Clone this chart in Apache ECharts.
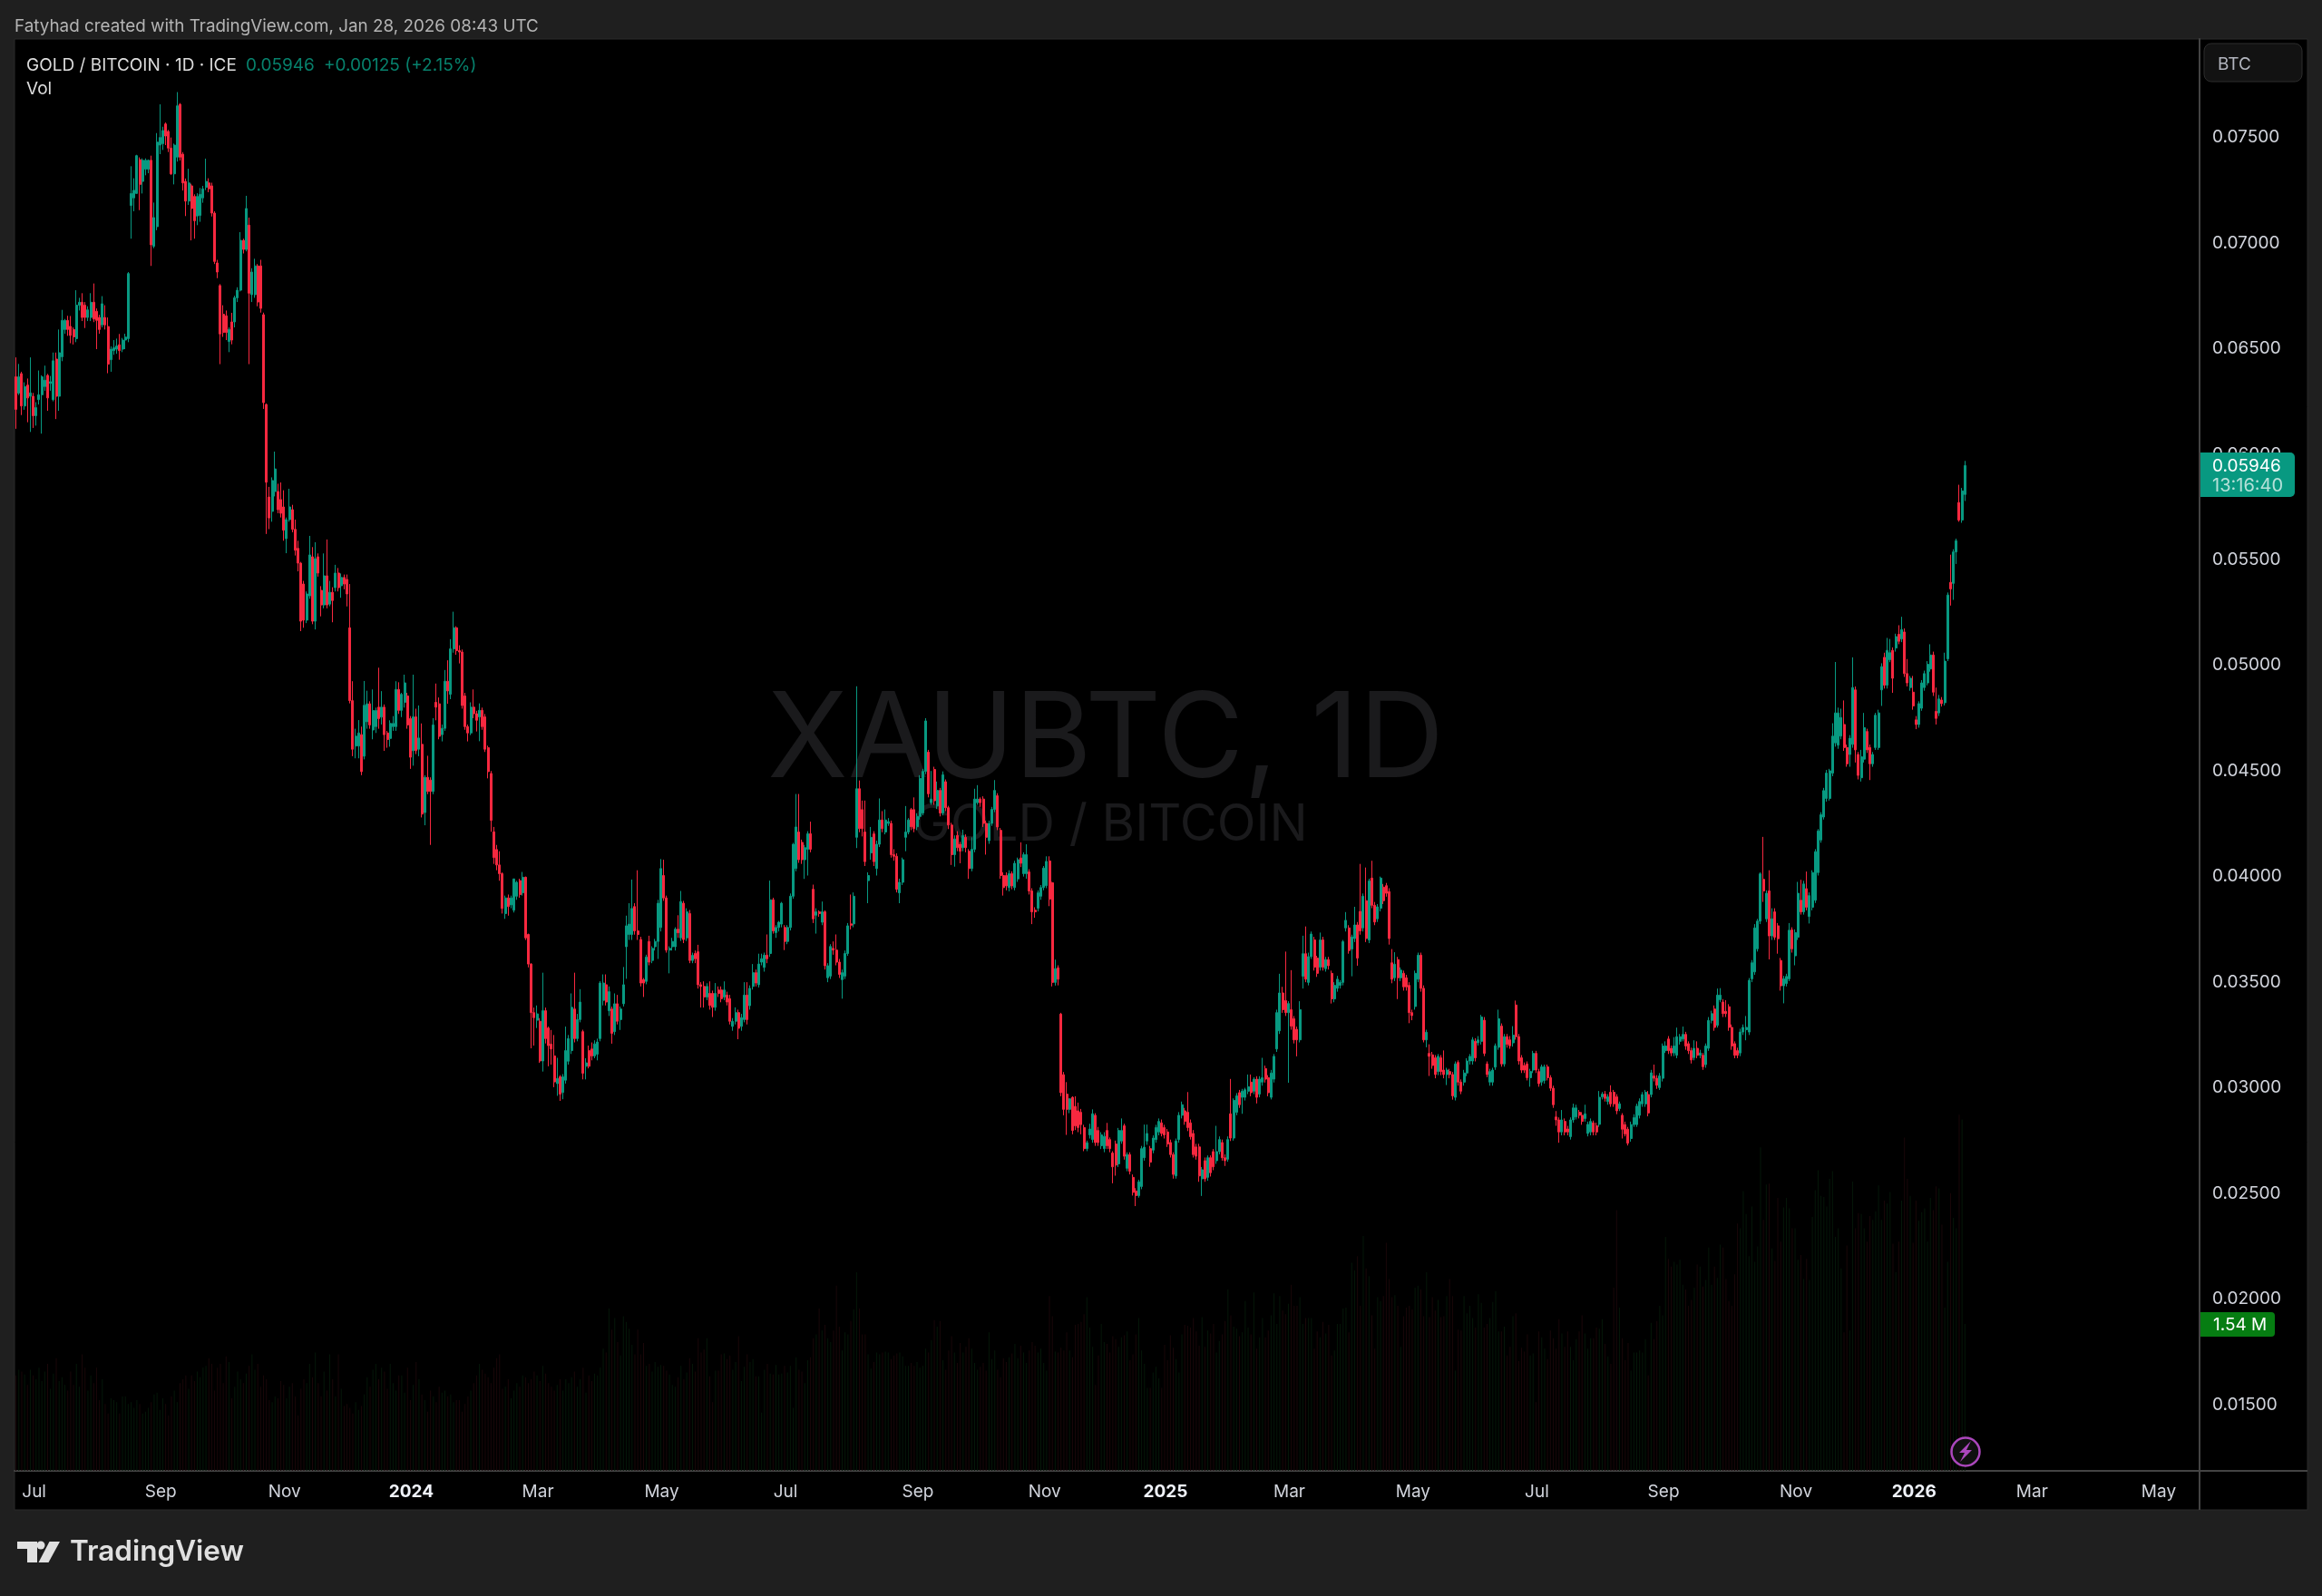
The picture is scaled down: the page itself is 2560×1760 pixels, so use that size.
<!DOCTYPE html>
<html>
<head>
<meta charset="utf-8">
<style>
html,body{margin:0;padding:0;background:#1f1f1f}
#chart{width:2560px;height:1760px}
</style>
<script src="https://cdn.jsdelivr.net/npm/echarts@6/dist/echarts.min.js"></script>
</head>
<body>
<div id="chart"></div>
<script>
// prices in units of 0.00001 BTC
const opens = [
6366,6289,6381,6228,6327,6274,6274,6182,6258,6281,
6320,6373,6335,6258,6450,6274,6461,6590,6633,6605,
6590,6547,6705,6719,6705,6647,6647,6719,6676,6647,
6612,6647,6604,6447,6490,6497,6518,6497,6540,6547,
7177,7213,7234,7394,7291,7349,7349,7391,6984,7077,
7463,7470,7563,7528,7449,7327,7406,7656,7420,7291,
7198,7270,7220,7127,7130,7213,7263,7284,7270,7141,
6905,6798,6662,6655,6533,6626,6626,6740,6776,7012,
6969,7084,6755,6755,6891,6891,6660,6235,5797,5729,
5823,5823,5785,5750,5600,5690,5737,5644,5554,5484,
5385,5214,5329,5514,5209,5514,5355,5286,5424,5290,
5346,5368,5437,5377,5416,5407,5178,4833,4618,4618,
4672,4570,4733,4818,4694,4710,4802,4755,4802,4680,
4654,4710,4710,4886,4787,4825,4855,4748,4596,4756,
4603,4626,4303,4470,4457,4403,4825,4818,4672,4702,
4925,4863,5078,5178,5070,5063,4855,4710,4680,4802,
4771,4756,4787,4756,4610,4488,4212,4128,4055,4014,
3825,3899,3866,3841,3907,3981,3923,3997,3726,3586,
3356,3320,3315,3127,3365,3283,3207,3151,3020,3052,
2978,3036,3126,3176,3373,3233,3323,3266,3102,3176,
3184,3151,3159,3233,3414,3488,3365,3373,3266,3398,
3323,3398,3668,3726,3726,3858,3743,3702,3512,3504,
3693,3603,3668,3693,3759,4005,3899,3652,3668,3668,
3751,3710,3874,3710,3825,3603,3636,3644,3488,3480,
3430,3447,3447,3381,3463,3463,3430,3439,3422,3291,
3315,3356,3291,3323,3439,3389,3480,3545,3488,3595,
3570,3628,3636,3890,3735,3759,3775,3759,3693,3759,
3907,4038,4211,4162,4080,4129,4203,3940,3817,3833,
3784,3833,3521,3529,3660,3652,3595,3512,3529,3636,
3776,3776,4186,4416,4317,4211,3981,4112,4202,4038,
4153,4268,4211,4252,4252,4104,4096,3923,3973,4186,
4211,4317,4317,4236,4285,4301,4498,4589,4350,4507,
4334,4408,4301,4449,4326,4244,4104,4195,4153,4137,
4186,4120,4038,4129,4350,4367,4367,4252,4170,4252,
4318,4383,4219,4005,4005,3948,4014,3948,3989,4088,
4014,4014,4022,3932,3841,3850,3907,3948,3957,4074,
3971,3499,3568,3349,3062,2970,2898,2955,2912,2891,
2884,2812,2712,2777,2755,2870,2798,2726,2712,2798,
2755,2691,2734,2640,2748,2820,2619,2684,2576,2512,
2490,2533,2669,2748,2712,2705,2755,2791,2834,2812,
2791,2741,2684,2583,2755,2870,2891,2884,2834,2784,
2720,2720,2569,2655,2576,2669,2698,2655,2698,2741,
2669,2662,2877,2762,2884,2977,2955,2955,2984,3027,
2984,3041,2970,3027,3091,3048,2955,3041,3184,3270,
3449,3413,3356,3370,3327,3277,3227,3528,3635,3499,
3621,3700,3614,3571,3700,3564,3607,3542,3421,3471,
3485,3499,3757,3757,3657,3707,3771,3835,3757,3886,
3700,3993,3864,3800,3850,3950,3957,3929,3592,3521,
3607,3521,3542,3521,3485,3356,3385,3514,3628,3471,
3227,3163,3156,3142,3077,3142,3084,3063,3077,3063,
2955,3120,3027,3027,3070,3127,3127,3220,3213,3220,
3320,3113,3027,3027,3098,3192,3292,3113,3242,3227,
3213,3392,3242,3142,3106,3113,3048,3084,3163,3077,
3027,3034,3099,3048,2998,2862,2848,2791,2841,2805,
2769,2848,2862,2884,2870,2855,2784,2791,2834,2820,
2827,2957,2970,2935,2979,2979,2957,2902,2870,2826,2804,
2760,2826,2826,2870,2924,2924,2968,2968,3056,3045,
3001,3045,3176,3231,3187,3165,3154,3220,3231,3253,
3209,3176,3143,3187,3154,3154,3110,3187,3319,3373,
3296,3417,3406,3362,3384,3286,3209,3176,3165,3264,
3275,3264,3516,3549,3658,3789,3987,3800,3932,3719,
3833,3767,3603,3483,3494,3516,3747,3625,3713,3888,
3833,3943,3811,3855,3888,4019,4173,4282,4370,4370,
4490,4633,4622,4665,4720,4611,4578,4626,4884,4578,
4468,4556,4687,4611,4534,4611,4611,4884,5038,4906,
5027,5071,5082,5147,5125,5158,4961,4895,4873,4742,
4720,4797,4895,4917,4983,5049,4782,4775,4836,4823,
5031,5393,5388,5537,5771,5688,5809
];
const closes = [
6212,6366,6228,6320,6266,6290,6182,6220,6281,6366,
6350,6266,6343,6442,6274,6480,6633,6633,6590,6562,
6555,6705,6719,6647,6647,6683,6719,6640,6633,6590,
6712,6612,6426,6497,6504,6512,6490,6540,6554,6855,
7234,7249,7413,7277,7391,7391,7391,6991,7120,7477,
7499,7532,7506,7449,7327,7463,7649,7406,7284,7198,
7284,7163,7105,7220,7230,7256,7291,7256,7141,6912,
6862,6569,6576,6576,6590,6540,6740,6776,7012,6969,
7163,6762,6862,6891,6720,6690,6244,5867,5698,5875,
5930,5737,5720,5640,5690,5750,5644,5545,5484,5209,
5214,5338,5523,5209,5505,5437,5286,5424,5286,5346,
5307,5437,5368,5416,5385,5338,4833,4603,4665,4680,
4497,4811,4818,4718,4786,4786,4748,4802,4672,4649,
4725,4725,4886,4787,4863,4917,4718,4565,4756,4596,
4656,4296,4470,4403,4403,4718,4802,4664,4702,4925,
4879,5078,5178,5070,5063,4810,4710,4680,4802,4771,
4740,4787,4710,4603,4497,4266,4090,4055,4014,3849,
3899,3858,3899,3989,3973,3915,3997,3710,3586,3356,
3332,3350,3127,3365,3233,3200,3184,3028,3044,2970,
3052,3176,3233,3381,3233,3323,3406,3069,3118,3102,
3151,3208,3217,3496,3496,3406,3455,3258,3398,3315,
3373,3488,3767,3775,3849,3743,3726,3496,3496,3619,
3595,3660,3693,3874,4038,3899,3652,3660,3693,3751,
3734,3882,3702,3833,3603,3627,3611,3488,3480,3430,
3480,3390,3381,3447,3447,3422,3463,3406,3315,3315,
3356,3282,3332,3439,3323,3471,3545,3496,3586,3611,
3628,3611,3890,3743,3759,3784,3874,3693,3759,3907,
4153,4235,4080,4080,4137,4203,4129,3800,3833,3825,
3833,3578,3578,3669,3652,3595,3537,3545,3636,3767,
3770,3907,4416,4227,4227,4071,4005,4186,4071,4153,
4268,4227,4268,4260,4104,4096,3940,3973,4080,4211,
4268,4236,4227,4285,4465,4498,4737,4392,4367,4359,
4408,4301,4482,4326,4244,4104,4178,4137,4120,4194,
4137,4038,4129,4367,4367,4350,4252,4186,4252,4318,
4408,4235,4005,3948,3956,4014,3956,4063,4080,4063,
4104,4104,3932,3833,3833,3923,3948,4040,4072,3893,
3499,3564,3514,2977,2898,2898,2948,2798,2820,2812,
2826,2712,2740,2805,2877,2741,2741,2777,2770,2726,
2712,2626,2634,2798,2798,2676,2684,2605,2505,2490,
2555,2712,2719,2784,2648,2762,2812,2841,2784,2777,
2734,2684,2590,2748,2870,2920,2841,2812,2769,2684,
2676,2583,2612,2569,2669,2598,2626,2698,2755,2669,
2655,2755,2762,2941,2962,2920,2984,2991,3005,2977,
3041,2955,3041,3048,3041,2977,3070,3149,3356,3449,
3370,3356,3399,3292,3227,3227,3370,3635,3514,3621,
3728,3571,3542,3700,3571,3607,3578,3421,3485,3514,
3499,3692,3793,3650,3714,3771,3614,3743,3907,3707,
3979,3864,3785,3857,3993,3886,3921,3707,3514,3585,
3521,3557,3478,3478,3356,3342,3542,3628,3471,3227,
3263,3149,3106,3063,3149,3077,3063,3084,3063,2962,
3113,3027,2984,3070,3127,3149,3227,3142,3227,3335,
3163,3063,3077,3084,3199,3327,3113,3242,3206,3199,
3249,3242,3127,3084,3084,3048,3077,3163,3084,3020,
3099,3099,3048,2998,2920,2848,2791,2848,2791,2791,
2848,2905,2905,2870,2841,2877,2827,2841,2791,2791,
2955,2970,2950,2957,2924,2924,2891,2924,2804,2782,2738,
2826,2859,2913,2935,2968,2979,2881,3071,3045,3012,
3056,3198,3198,3176,3165,3198,3242,3242,3253,3198,
3176,3132,3187,3154,3165,3100,3198,3319,3351,3286,
3439,3439,3351,3351,3286,3198,3154,3154,3264,3286,
3286,3509,3592,3757,3789,4013,3932,3921,3719,3800,
3713,3706,3483,3516,3527,3746,3658,3735,3921,3833,
3965,3855,3910,4019,4118,4216,4293,4407,4490,4501,
4665,4775,4775,4753,4611,4534,4655,4895,4600,4479,
4567,4705,4600,4534,4578,4764,4775,4994,4906,5071,
5060,4939,5136,5114,5169,4961,4917,4939,4808,4720,
4819,4917,4961,5005,5049,4873,4749,4841,4819,5020,
5333,5362,5537,5590,5688,5826,5946
];
const lows = [
6120,6280,6185,6210,6151,6105,6124,6135,6235,6097,
6300,6205,6300,6250,6166,6205,6440,6570,6560,6525,
6519,6530,6680,6630,6597,6630,6630,6625,6497,6570,
6600,6590,6383,6390,6470,6475,6447,6483,6497,6530,
7020,7150,7234,7155,7234,7320,7330,6891,6975,7060,
7420,7440,7463,7430,7322,7277,7385,7390,7248,7127,
7180,7012,7020,7084,7100,7190,7250,7240,7125,6900,
6833,6426,6555,6540,6483,6520,6600,6720,6770,6950,
6960,6426,6720,6740,6700,6670,6214,5622,5645,5680,
5800,5720,5700,5590,5531,5680,5630,5520,5445,5162,
5178,5200,5315,5195,5170,5420,5232,5270,5270,5280,
5204,5350,5350,5320,5360,5279,4820,4570,4560,4560,
4480,4555,4700,4700,4650,4680,4700,4720,4595,4610,
4615,4690,4690,4770,4755,4800,4700,4510,4525,4580,
4570,4280,4243,4390,4150,4390,4740,4650,4640,4690,
4818,4840,5060,5050,5009,4795,4695,4640,4670,4750,
4687,4641,4695,4590,4465,4212,4060,4030,3980,3825,
3800,3815,3850,3830,3890,3900,3910,3700,3570,3187,
3200,3283,3118,3077,3210,3102,3110,3003,2962,2938,
2946,3020,3110,3160,3215,3220,3310,3040,3040,3092,
3130,3140,3130,3220,3390,3390,3340,3209,3250,3300,
3274,3385,3516,3700,3700,3725,3700,3480,3430,3490,
3580,3590,3650,3610,3740,3885,3640,3542,3650,3650,
3710,3695,3685,3695,3590,3590,3590,3470,3380,3380,
3415,3370,3335,3365,3430,3405,3415,3390,3300,3270,
3300,3230,3270,3310,3300,3370,3465,3480,3475,3580,
3550,3590,3620,3730,3710,3740,3760,3652,3680,3745,
3895,4025,4065,4060,3989,4005,4115,3780,3730,3810,
3770,3560,3500,3515,3630,3580,3520,3422,3515,3625,
3750,3760,4135,4210,4190,4050,3874,4080,4050,4005,
4140,4210,4200,4240,4090,4075,3925,3874,3960,4120,
4200,4220,4210,4220,4270,4290,4485,4375,4340,4340,
4320,4285,4290,4310,4225,4055,4047,4120,4063,4120,
4115,3989,4025,4115,4340,4330,4235,4104,4155,4240,
4305,4220,3990,3910,3935,3930,3940,3935,3975,4045,
4000,3990,3915,3775,3805,3835,3890,3935,3945,3860,
3480,3484,3485,2960,2870,2777,2880,2780,2800,2790,
2780,2700,2700,2760,2740,2725,2725,2710,2695,2710,
2695,2548,2584,2625,2735,2660,2605,2590,2490,2440,
2480,2520,2655,2730,2626,2690,2740,2775,2770,2760,
2720,2670,2570,2570,2740,2855,2825,2795,2755,2670,
2660,2555,2488,2555,2560,2580,2610,2640,2685,2655,
2630,2650,2748,2750,2870,2905,2877,2940,2970,2960,
2970,2926,2955,3010,3025,2960,2945,3025,3170,3255,
3355,3340,3024,3275,3210,3149,3215,3470,3500,3485,
3610,3555,3525,3555,3555,3550,3560,3399,3405,3455,
3470,3485,3740,3635,3528,3690,3578,3725,3740,3690,
3685,3850,3770,3785,3835,3870,3905,3678,3495,3505,
3420,3505,3460,3460,3306,3320,3370,3500,3455,3215,
3192,3056,3090,3045,3060,3060,3045,3013,3045,2944,
2940,3010,2970,3010,3055,3110,3110,3125,3200,3205,
3150,3050,3010,3010,3085,3180,3100,3100,3190,3185,
3195,3228,3110,3070,3070,3035,3005,3070,3070,3005,
3010,3020,3035,2985,2905,2820,2740,2775,2775,2775,
2755,2835,2850,2855,2825,2840,2770,2775,2775,2775,
2815,2945,2935,2920,2910,2910,2875,2890,2760,2770,2727,
2745,2815,2815,2855,2910,2910,2865,2955,3030,2995,
2990,3030,3165,3160,3150,3150,3140,3205,3220,3180,
3160,3115,3130,3140,3140,3085,3095,3175,3305,3270,
3285,3405,3335,3335,3270,3180,3140,3140,3150,3250,
3225,3250,3500,3535,3645,3775,3880,3785,3608,3700,
3700,3635,3460,3400,3480,3505,3640,3580,3700,3820,
3820,3840,3778,3840,3875,4005,4160,4270,4355,4360,
4475,4615,4605,4650,4595,4520,4520,4610,4540,4460,
4450,4540,4585,4457,4520,4600,4600,4808,4890,4890,
5015,4870,5065,5100,5110,4945,4900,4880,4790,4698,
4705,4785,4880,4905,4970,4855,4720,4760,4805,4810,
5020,5283,5310,5480,5680,5675,5778
];
const highs = [
6458,6427,6390,6340,6358,6458,6290,6246,6396,6373,
6419,6380,6370,6481,6481,6590,6683,6640,6655,6654,
6600,6776,6740,6762,6720,6700,6762,6808,6690,6660,
6748,6705,6647,6510,6540,6547,6569,6550,6570,6862,
7363,7306,7417,7405,7400,7400,7395,7413,7191,7520,
7656,7550,7570,7535,7499,7470,7714,7662,7430,7305,
7351,7280,7230,7235,7260,7270,7399,7306,7285,7150,
6920,6805,6705,6680,6600,6669,6750,6790,7051,7020,
7223,7120,6880,6925,6900,6920,6670,6240,5845,5890,
6012,5860,5866,5829,5700,5836,5760,5690,5590,5490,
5400,5350,5613,5560,5583,5530,5375,5530,5596,5400,
5370,5476,5461,5435,5430,5430,5385,4925,4700,4741,
4710,4926,4880,4830,4886,4800,4989,4878,4815,4690,
4740,4760,4925,4920,4870,4956,4870,4760,4956,4795,
4810,4725,4480,4572,4470,4750,4914,4848,4720,4978,
5024,5124,5254,5185,5095,5075,4870,4720,4825,4886,
4785,4820,4800,4770,4620,4500,4235,4150,4120,4020,
3910,3915,3910,3990,3980,3990,4022,4000,3730,3590,
3380,3390,3330,3545,3380,3290,3274,3250,3142,3060,
3065,3290,3250,3447,3545,3350,3467,3275,3140,3200,
3215,3225,3233,3505,3537,3537,3480,3385,3447,3440,
3385,3572,3815,3874,3986,3874,4030,3715,3520,3630,
3720,3670,3705,3890,4083,4080,3910,3670,3710,3760,
3817,3932,3885,3850,3842,3640,3650,3677,3500,3504,
3495,3504,3460,3496,3480,3480,3504,3455,3440,3330,
3381,3370,3350,3500,3500,3485,3586,3560,3635,3635,
3640,3726,3981,3900,3770,3790,3880,3770,3770,3920,
4160,4391,4391,4175,4150,4215,4260,3962,3850,3840,
3882,3840,3590,3680,3693,3726,3610,3560,3650,3780,
3915,3925,4901,4455,4360,4360,4020,4235,4215,4170,
4370,4310,4318,4277,4265,4130,4110,3990,4090,4334,
4277,4325,4375,4300,4480,4510,4750,4600,4500,4520,
4450,4420,4498,4460,4335,4255,4195,4215,4165,4222,
4200,4130,4186,4416,4433,4375,4380,4265,4265,4330,
4457,4395,4230,4020,4020,4030,4025,4075,4090,4162,
4115,4153,4035,3945,3855,3935,3960,4050,4096,4096,
3975,3607,3580,3355,3075,3027,2950,2960,2960,2930,
2900,2825,2750,2830,2898,2880,2815,2790,2790,2834,
2765,2700,2750,2810,2855,2830,2695,2695,2590,2525,
2565,2725,2826,2826,2725,2775,2825,2855,2850,2825,
2805,2755,2695,2760,2885,2935,2905,2980,2850,2800,
2735,2735,2625,2670,2680,2680,2710,2820,2770,2755,
2685,2770,3042,2950,2975,2990,2995,3000,3063,3063,
3050,3055,3055,3142,3105,3060,3085,3160,3370,3540,
3478,3645,3410,3557,3340,3290,3410,3720,3764,3640,
3740,3715,3625,3735,3715,3620,3620,3555,3500,3530,
3510,3700,3832,3770,3725,3857,3785,4060,3920,4043,
3990,4075,3880,3870,4000,3965,3970,3945,3657,3642,
3620,3570,3555,3535,3500,3370,3555,3640,3640,3485,
3275,3206,3170,3155,3160,3155,3177,3095,3090,3075,
3125,3130,3040,3085,3140,3160,3240,3235,3245,3345,
3335,3125,3090,3095,3210,3370,3305,3255,3255,3245,
3292,3413,3255,3155,3120,3125,3090,3175,3175,3090,
3110,3110,3110,3060,3010,2890,2860,2895,2855,2820,
2860,2925,2920,2895,2885,2920,2840,2855,2845,2835,
2985,2980,2985,2970,3012,2990,2970,2935,2880,2840,2815,
2840,2875,2925,2950,2980,2990,2985,3085,3110,3060,
3070,3210,3220,3245,3200,3240,3285,3255,3290,3265,
3220,3190,3225,3220,3180,3165,3210,3335,3365,3390,
3470,3472,3420,3415,3396,3300,3220,3190,3280,3300,
3340,3520,3605,3775,3800,4020,4188,3935,4030,3850,
3850,3780,3615,3530,3540,3780,3760,3750,3975,3985,
3980,4024,3925,4030,4130,4225,4305,4420,4505,4510,
4726,5016,4800,4795,4834,4625,4670,5038,4900,4590,
4600,4775,4700,4625,4590,4775,4790,5010,5060,5130,
5125,5085,5150,5190,5230,5175,5030,4950,4950,4760,
4830,4930,4975,5020,5100,5065,4895,4860,4850,5060,
5345,5524,5550,5600,5855,5840,5968
];
// volume in units of 10k at the bottom
const volumes = [
100,106,104,101,90,106,100,96,108,94,
104,112,86,102,118,94,98,90,84,104,
90,112,88,122,108,84,100,92,108,74,
96,70,60,76,74,72,60,78,78,70,
72,66,74,70,60,62,66,72,80,82,
64,76,70,58,78,84,72,92,96,100,
86,100,94,104,98,108,110,118,112,84,
108,112,92,120,114,76,88,104,96,92,
102,110,122,106,112,88,100,96,74,72,
78,76,94,90,76,88,92,78,58,86,
96,92,112,98,124,92,78,104,84,122,
96,78,122,86,68,70,66,60,72,64,
68,80,98,88,106,112,96,108,104,86,
112,92,84,100,100,82,108,74,90,114,
96,80,74,62,84,78,72,88,82,84,
78,80,72,74,74,62,70,78,84,92,
100,112,106,102,98,92,108,118,122,86,
88,96,76,84,92,88,100,98,92,96,
104,100,94,110,102,92,88,84,90,96,
84,96,92,98,104,88,96,108,82,100,
94,102,100,108,128,124,170,148,160,
135,121,162,156,149,132,122,148,122,134,
110,112,104,114,109,111,110,105,101,90,
88,98,110,96,103,118,112,104,139,124,
127,139,99,72,105,105,122,123,117,121,
106,114,141,94,109,122,114,117,99,99,
61,106,112,102,101,111,101,102,110,103,
110,66,119,106,104,92,116,119,139,143,
170,147,153,139,135,147,194,151,126,145,
143,157,169,208,170,143,143,122,107,114,
124,122,124,125,124,117,121,123,124,120,
110,110,113,110,114,108,110,128,124,137,
158,151,157,116,106,126,141,124,113,134,
124,130,139,128,113,106,109,113,105,145,
117,126,106,98,118,114,119,123,133,118,
131,124,113,126,135,131,124,128,113,105,
183,162,125,124,129,126,145,126,119,153,
154,156,164,
182,150,130,90,121,154,135,133,124,141,
138,130,140,142,146,116,122,143,160,126,
112,87,87,103,109,97,87,132,116,142,
129,117,103,143,153,152,150,160,146,131,
161,130,147,144,154,124,136,143,157,190,
163,151,149,141,145,178,150,143,187,128,
140,160,140,147,163,186,154,183,168,164,
175,195,173,173,182,154,160,160,160,128,
146,140,156,144,153,121,126,154,154,170,
171,145,218,210,225,173,246,212,204,163,
128,182,178,183,239,201,182,184,173,130,
162,171,173,169,192,194,190,162,208,161,
182,168,179,161,162,183,201,183,105,148,
147,183,165,173,160,150,185,176,150,154,
160,177,188,146,146,151,121,130,162,165,
115,129,125,143,121,123,72,146,140,128,
117,147,139,128,
159,144,130,146,130,116,138,146,163,144,
128,139,139,150,149,159,133,120,112,192,
273,171,139,116,134,105,124,124,126,124,
138,100,155,138,157,173,163,245,222,214,
219,216,221,195,190,173,179,192,216,214,
193,200,234,195,214,202,237,234,201,178,
173,206,259,254,293,269,225,277,219,235,
339,263,300,301,233,220,286,240,276,286,
275,254,254,221,226,201,222,200,266,294,
315,288,287,277,306,314,245,254,212,145,
236,147,303,254,270,269,254,240,267,263,272,
299,263,283,280,292,238,208,240,283,349,
306,288,239,283,262,271,275,240,286,273,
298,296,258,171,219,291,265,254,373,368,
154
];
const priceTicks = [0.015,0.02,0.025,0.03,0.035,0.04,0.045,0.05,0.055,0.06,0.065,0.07,0.075];
const monthLabels = ['Jul','Sep','Nov','2024','Mar','May','Jul','Sep','Nov','2025','Mar','May','Jul','Sep','Nov','2026','Mar','May'];
const monthBars = [6,50,93,137,181,224,267,313,357,399,442,485,528,572,618,659,700,744];
const emptyBars = 81;

const PRICE_UNIT = 0.00001;
const UP = '#089981';
const DOWN = '#f7283f';
const VOL_UP = '#051809';
const VOL_DOWN = '#1a0709';
const SANS = 'Inter, "Noto Sans", sans-serif';

let dayLabels = new Array(closes.length + emptyBars).fill('');
monthBars.forEach((bar, i) => { dayLabels[bar] = monthLabels[i]; });

let candleData = closes.map((c, i) => [opens[i], c, lows[i], highs[i]].map(v => +(v * PRICE_UNIT).toFixed(5)));
let volumeData = volumes.map((v, i) => ({
  value: v,
  itemStyle: { color: closes[i] >= opens[i] ? VOL_UP : VOL_DOWN }
}));

function label (x, y, text, fill, size, extra) {
  return {
    type: 'text',
    z: 100,
    style: Object.assign({ x: x, y: y + 1, text: text, fill: fill, font: size + 'px ' + SANS, textVerticalAlign: 'middle' }, extra || {})
  };
}

let chart = echarts.init(document.getElementById('chart'), null, { renderer: 'canvas' });
chart.setOption({
  animation: false,
  backgroundColor: '#1f1f1f',
  grid: { left: 16, right: 135, top: 43, bottom: 138, containLabel: false },
  xAxis: {
    type: 'category',
    data: dayLabels,
    boundaryGap: true,
    axisTick: { show: false },
    axisLine: { lineStyle: { color: '#434343', width: 2 } },
    splitLine: { show: false },
    axisLabel: {
      interval: function (index) { return dayLabels[index] !== ''; },
      margin: 14,
      color: '#d1d4dc',
      fontFamily: 'Inter',
      fontSize: 19,
      hideOverlap: false,
      padding: [0, 0, 0, 2],
      formatter: function (v) { return /^\d{4}$/.test(v) ? '{b|' + v + '}' : v; },
      rich: { b: { color: '#f0f3fa', fontWeight: 700, fontFamily: 'Inter', fontSize: 19 } }
    }
  },
  yAxis: [{
    type: 'value',
    position: 'right',
    min: 0.011866,
    max: 0.079654,
    axisLine: { show: true, lineStyle: { color: '#434343', width: 2 } },
    axisTick: { show: false },
    splitLine: { show: false },
    axisLabel: {
      customValues: priceTicks,
      margin: 14,
      color: '#d1d4dc',
      fontFamily: 'Inter',
      fontSize: 19,
      padding: [5, 0, 0, 0],
      formatter: function (v) { return v.toFixed(5); }
    }
  }, {
    type: 'value',
    min: 0,
    max: 1500,
    show: false
  }],
  series: [{
    name: 'Vol',
    type: 'bar',
    yAxisIndex: 1,
    barWidth: 1,
    z: 1,
    data: volumeData,
    large: false,
    progressive: 0
  }, {
    name: 'GOLD / BITCOIN',
    type: 'candlestick',
    barWidth: 2.5,
    z: 3,
    progressive: 0,
    large: false,
    itemStyle: { color: UP, color0: DOWN, borderColor: UP, borderColor0: DOWN, borderWidth: 1 },
    data: candleData
  }],
  graphic: [
    { type: 'rect', z: -10, shape: { x: 16, y: 43, width: 2528, height: 1622 }, style: { fill: '#000', stroke: '#2a2a2a', lineWidth: 1 } },
    { type: 'text', z: -5, style: { x: 1219, y: 818, text: 'XAUBTC, 1D', align: 'center', verticalAlign: 'middle', fill: '#1a1a1c', font: '130px ' + SANS } },
    { type: 'text', z: -5, style: { x: 1224, y: 910, text: 'GOLD / BITCOIN', align: 'center', verticalAlign: 'middle', fill: '#1a1a1c', font: '56px ' + SANS } },
    { type: 'line', z: 5, shape: { x1: 2425, y1: 1622, x2: 2425, y2: 1665 }, style: { stroke: '#434343', lineWidth: 2 } },
    { type: 'line', z: 5, shape: { x1: 2425, y1: 1622, x2: 2544, y2: 1622 }, style: { stroke: '#434343', lineWidth: 2 } },
    label(16, 28, 'Fatyhad created with TradingView.com, Jan 28, 2026 08:43 UTC', '#b4b4b4', 18.85),
    label(29, 71, 'GOLD / BITCOIN · 1D · ICE', '#dcdcdc', 19),
    label(271, 71, '0.05946', '#07806c', 19),
    label(357, 71, '+0.00125 (+2.15%)', '#07806c', 19),
    label(29, 97, 'Vol', '#dcdcdc', 19),
    { type: 'rect', z: 99, shape: { x: 2430, y: 48, width: 108, height: 42, r: 8 }, style: { fill: '#121212', stroke: '#2c2c2c', lineWidth: 1 } },
    label(2445, 70, 'BTC', '#b2b5be', 19),
    { type: 'rect', z: 99, shape: { x: 2426, y: 499, width: 104, height: 49, r: [0, 5, 5, 0] }, style: { fill: UP } },
    label(2439, 513, '0.05946', '#ffffff', 19),
    label(2439, 535, '13:16:40', 'rgba(255,255,255,0.7)', 20),
    { type: 'rect', z: 99, shape: { x: 2426, y: 1447, width: 82, height: 27, r: [0, 4, 4, 0] }, style: { fill: '#067d12' } },
    label(2440, 1460, '1.54 M', '#ffffff', 19),
    { type: 'circle', z: 99, shape: { cx: 2167, cy: 1601, r: 15.5 }, style: { fill: 'rgba(18,18,18,0.9)', stroke: '#ab47bc', lineWidth: 2.5 } },
    { type: 'polygon', z: 100, shape: { points: [[2173, 1589], [2160, 1602], [2166, 1602], [2161, 1612], [2174, 1599], [2168, 1599]] }, style: { fill: '#ab47bc' } },
    { type: 'rect', z: 100, shape: { x: 19, y: 1700, width: 22, height: 8 }, style: { fill: '#e0e0e0' } },
    { type: 'rect', z: 100, shape: { x: 30, y: 1700, width: 11, height: 23 }, style: { fill: '#e0e0e0' } },
    { type: 'circle', z: 100, shape: { cx: 45, cy: 1704, r: 4.5 }, style: { fill: '#e0e0e0' } },
    { type: 'polygon', z: 100, shape: { points: [[54.5, 1700], [66, 1700], [53.5, 1723], [42.5, 1723]] }, style: { fill: '#e0e0e0' } },
    { type: 'text', z: 100, style: { x: 77, y: 1712, text: 'TradingView', fill: '#e0e0e0', font: '600 31.5px ' + SANS, textVerticalAlign: 'middle' } }
  ]
});
</script>
</body>
</html>
